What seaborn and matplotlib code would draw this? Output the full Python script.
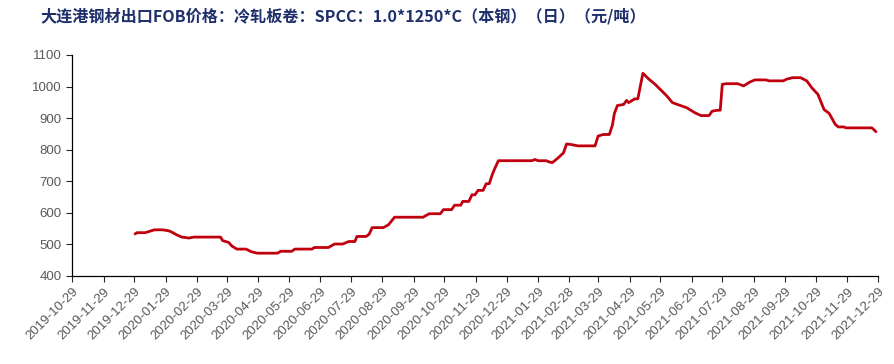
import matplotlib
matplotlib.use("Agg")
import matplotlib.pyplot as plt
import pandas as pd
import seaborn as sns

title = "大连港钢材出口FOB价格：冷轧板卷：SPCC：1.0*1250*C（本钢）（日）（元/吨）"

# values
dates = [
    "2019-12-30", "2020-01-01", "2020-01-09", "2020-01-13", "2020-01-18", "2020-01-26",
    "2020-02-01", "2020-02-04", "2020-02-09", "2020-02-14", "2020-02-21", "2020-02-26",
    "2020-03-23", "2020-03-25", "2020-03-31", "2020-04-03", "2020-04-08", "2020-04-17",
    "2020-04-22", "2020-04-28", "2020-05-18", "2020-05-21", "2020-06-01", "2020-06-04",
    "2020-06-21", "2020-06-23", "2020-07-07", "2020-07-13", "2020-07-21", "2020-07-27",
    "2020-08-02", "2020-08-04", "2020-08-13", "2020-08-16", "2020-08-19", "2020-08-30",
    "2020-09-04", "2020-09-10", "2020-10-08", "2020-10-14", "2020-10-25", "2020-10-28",
    "2020-11-05", "2020-11-08", "2020-11-14", "2020-11-16", "2020-11-22", "2020-11-25",
    "2020-11-28", "2020-12-01", "2020-12-06", "2020-12-09", "2020-12-12", "2020-12-15",
    "2020-12-17", "2020-12-21", "2021-01-23", "2021-01-26", "2021-01-29", "2021-02-06",
    "2021-02-09", "2021-02-12", "2021-02-17", "2021-02-23", "2021-02-26", "2021-03-03",
    "2021-03-09", "2021-03-26", "2021-03-29", "2021-04-03", "2021-04-09", "2021-04-12",
    "2021-04-14", "2021-04-17", "2021-04-23", "2021-04-26", "2021-04-28", "2021-05-04",
    "2021-05-07", "2021-05-12", "2021-05-18", "2021-05-24", "2021-05-29", "2021-06-04",
    "2021-06-10", "2021-06-15", "2021-06-24", "2021-07-02", "2021-07-08", "2021-07-16",
    "2021-07-19", "2021-07-25", "2021-07-27", "2021-07-29", "2021-08-02", "2021-08-13",
    "2021-08-19", "2021-08-25", "2021-08-30", "2021-09-10", "2021-09-13", "2021-09-27",
    "2021-09-30", "2021-10-06", "2021-10-14", "2021-10-20", "2021-10-25", "2021-10-31",
    "2021-11-06", "2021-11-11", "2021-11-17", "2021-11-20", "2021-11-25", "2021-11-28",
    "2021-12-23", "2021-12-27",
]
prices = [
    533, 537, 537, 541, 546, 546,
    543, 539, 530, 523, 520, 523,
    523, 512, 506, 495, 485, 485,
    477, 472, 472, 478, 478, 485,
    485, 490, 490, 501, 501, 509,
    509, 525, 525, 532, 553, 553,
    562, 586, 586, 597, 597, 610,
    610, 624, 624, 636, 636, 657,
    657, 671, 671, 692, 692, 721,
    737, 765, 765, 769, 765, 765,
    761, 759, 772, 790, 818, 816,
    812, 812, 843, 848, 848, 877,
    915, 940, 943, 956, 949, 961,
    961, 1042, 1023, 1007, 991, 972,
    949, 943, 933, 917, 908, 908,
    922, 925, 925, 1007, 1009, 1009,
    1002, 1014, 1021, 1021, 1018, 1018,
    1023, 1028, 1028, 1018, 996, 975,
    927, 915, 880, 872, 872, 869,
    869, 857,
]

tick_labels = [
    "2019-10-29", "2019-11-29", "2019-12-29", "2020-01-29", "2020-02-29", "2020-03-29",
    "2020-04-29", "2020-05-29", "2020-06-29", "2020-07-29", "2020-08-29", "2020-09-29",
    "2020-10-29", "2020-11-29", "2020-12-29", "2021-01-29", "2021-02-28", "2021-03-29",
    "2021-04-29", "2021-05-29", "2021-06-29", "2021-07-29", "2021-08-29", "2021-09-29",
    "2021-10-29", "2021-11-29", "2021-12-29",
]

df = pd.DataFrame({"date": pd.to_datetime(dates), "price": prices})

sns.set_style("ticks")
plt.rcParams["font.family"] = ["Liberation Sans", "Noto Sans CJK SC", "DejaVu Sans"]

fig = plt.figure(figsize=(8.95, 3.64), dpi=100)
ax = fig.add_axes([0.0804, 0.242, 0.9006, 0.607])

sns.lineplot(data=df, x="date", y="price", color="#C0000F", linewidth=2.0, ax=ax)

ticks = pd.to_datetime(tick_labels)
ax.set_xticks(ticks)
ax.set_xticklabels(tick_labels, rotation=45, ha="right", rotation_mode="anchor",
                   fontsize=9.5, color="#595959")
ax.set_xlim(ticks[0], ticks[-1])
ax.set_ylim(400, 1100)
ax.set_yticks(range(400, 1101, 100))
ax.tick_params(axis="y", labelsize=9.5, labelcolor="#595959", length=4, width=0.8)
ax.tick_params(axis="x", length=4, width=0.8, pad=3)
for side in ("top", "right"):
    ax.spines[side].set_visible(False)
for side in ("left", "bottom"):
    ax.spines[side].set_color("black")
    ax.spines[side].set_linewidth(0.9)
ax.set_xlabel("")
ax.set_ylabel("")

fig.text(0.045, 0.955, title, fontsize=11.6, fontweight="bold", color="#1F2F6B",
         family=["Noto Sans CJK SC", "DejaVu Sans"], va="center", ha="left")

fig.savefig("out.png", dpi=100)
